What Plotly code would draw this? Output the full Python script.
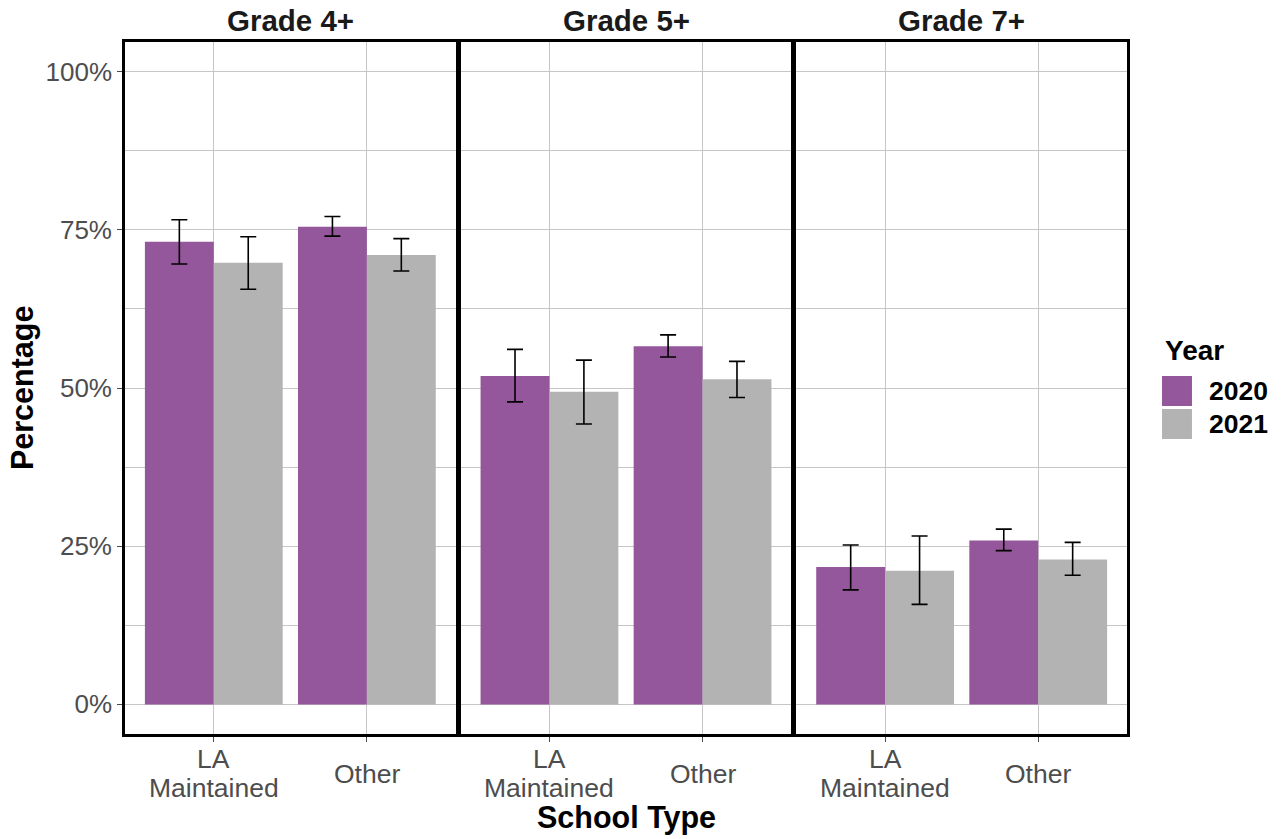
import plotly.graph_objects as go
from plotly.subplots import make_subplots

grades = ["Grade 4+", "Grade 5+", "Grade 7+"]
school_types = ["LA Maintained", "Other"]
school_labels = ["LA<br>Maintained", "Other"]
years = ["2020", "2021"]

# order: G4 LA, G4 Other, G5 LA, G5 Other, G7 LA, G7 Other
pct_2020 = [73.1, 75.5, 51.9, 56.6, 21.7, 25.9]
upper_2020 = [76.6, 77.1, 56.1, 58.4, 25.2, 27.7]
lower_2020 = [69.6, 74.0, 47.8, 54.9, 18.1, 24.3]
pct_2021 = [69.8, 71.0, 49.4, 51.4, 21.1, 22.9]
upper_2021 = [73.9, 73.6, 54.4, 54.2, 26.6, 25.6]
lower_2021 = [65.6, 68.5, 44.3, 48.5, 15.8, 20.4]

y_ticks = [0, 25, 50, 75, 100]
y_ticklabels = ["0%", "25%", "50%", "75%", "100%"]

colors = {"2020": "#95579B", "2021": "#B3B3B3"}
series = {
    "2020": (pct_2020, upper_2020, lower_2020),
    "2021": (pct_2021, upper_2021, lower_2021),
}

FONT = "Liberation Sans, Arial, sans-serif"
GRID = "#C6C6C6"
TICKC = "#4D4D4D"

W, H = 1286, 839
PLOT_L, PLOT_R, PLOT_T, PLOT_B = 124.5, 1127, 42, 734
PW = PLOT_R - PLOT_L
PH = PLOT_B - PLOT_T


def px_x(xp):  # page x -> paper
    return (xp - PLOT_L) / PW


def px_y(yp):  # page y -> paper
    return (PLOT_B - yp) / PH


fig = make_subplots(rows=1, cols=3, shared_yaxes=True, horizontal_spacing=5 / PW)

for gi, grade in enumerate(grades):
    for yr in years:
        vals, up, lo = series[yr]
        v = vals[2 * gi: 2 * gi + 2]
        u = up[2 * gi: 2 * gi + 2]
        l = lo[2 * gi: 2 * gi + 2]
        fig.add_trace(
            go.Bar(
                x=school_types,
                y=v,
                name=yr,
                marker=dict(color=colors[yr], line=dict(width=0)),
                error_y=dict(
                    type="data",
                    symmetric=False,
                    array=[a - b for a, b in zip(u, v)],
                    arrayminus=[b - c for b, c in zip(v, l)],
                    color="black",
                    thickness=1.6,
                    width=8,
                ),
                showlegend=False,
                hoverinfo="skip",
            ),
            row=1, col=gi + 1,
        )

for gi in range(3):
    xa = "xaxis" if gi == 0 else f"xaxis{gi + 1}"
    ya = "yaxis" if gi == 0 else f"yaxis{gi + 1}"
    fig.layout[xa].update(
        type="category",
        categoryorder="array",
        categoryarray=school_types,
        range=[-0.58, 1.58],
        showgrid=True,
        gridcolor=GRID,
        gridwidth=1.4,
        showline=True,
        mirror=True,
        linecolor="black",
        linewidth=2.6,
        ticks="outside",
        ticklen=5,
        tickwidth=1.4,
        tickcolor=TICKC,
        showticklabels=False,
        zeroline=False,
        fixedrange=True,
    )
    fig.layout[ya].update(
        range=[-4.68, 104.68],
        tickvals=y_ticks,
        ticktext=y_ticklabels,
        showgrid=True,
        gridcolor=GRID,
        gridwidth=1.4,
        minor=dict(dtick=12.5, tick0=0, showgrid=True, gridcolor=GRID, gridwidth=1.4, ticks=""),
        showline=True,
        mirror=True,
        linecolor="black",
        linewidth=2.6,
        ticks="outside" if gi == 0 else "",
        ticklen=5,
        tickwidth=1.4,
        tickcolor=TICKC,
        showticklabels=(gi == 0),
        tickfont=dict(family=FONT, size=26, color=TICKC),
        zeroline=False,
        fixedrange=True,
    )

annotations = []
LABEL_CENTER = 773.5
LINE_STEP = 28.5
for gi in range(3):
    xref = "x" if gi == 0 else f"x{gi + 1}"
    for cat, lab in zip(school_types, school_labels):
        lines = lab.split("<br>")
        n = len(lines)
        for li, line in enumerate(lines):
            yc = LABEL_CENTER + (li - (n - 1) / 2) * LINE_STEP
            annotations.append(dict(
                x=cat, xref=xref, y=px_y(yc), yref="paper",
                text=line, showarrow=False, xanchor="center", yanchor="middle",
                font=dict(family=FONT, size=26.5, color=TICKC),
            ))
    annotations.append(dict(
        x=0.5, xref=f"{xref} domain", y=px_y(20), yref="paper",
        text=f"<b>{grades[gi]}</b>", showarrow=False, xanchor="center", yanchor="middle",
        font=dict(family=FONT, size=29.5, color="#1A1A1A"),
    ))

annotations.append(dict(
    x=0.5, xref="paper", y=px_y(817), yref="paper", text="<b>School Type</b>",
    showarrow=False, xanchor="center", yanchor="middle",
    font=dict(family=FONT, size=30.5, color="black"),
))
annotations.append(dict(
    x=px_x(21.5), xref="paper", y=px_y(388), yref="paper", text="<b>Percentage</b>",
    showarrow=False, xanchor="center", yanchor="middle", textangle=-90,
    font=dict(family=FONT, size=30.5, color="black"),
))

# legend (manual)
annotations.append(dict(
    x=px_x(1163), xref="paper", y=px_y(350.5), yref="paper", text="<b>Year</b>",
    showarrow=False, xanchor="left", yanchor="middle",
    font=dict(family=FONT, size=28, color="black"),
))
shapes = []
key_tops = [376, 409]
KEY = 30
for yr, top in zip(years, key_tops):
    shapes.append(dict(
        type="rect", xref="paper", yref="paper",
        x0=px_x(1162), x1=px_x(1162 + KEY), y0=px_y(top + KEY), y1=px_y(top),
        fillcolor=colors[yr], line=dict(width=0),
    ))
    annotations.append(dict(
        x=px_x(1207), xref="paper", y=px_y(top + KEY / 2), yref="paper", text=f"<b>{yr}</b>",
        showarrow=False, xanchor="left", yanchor="middle",
        font=dict(family=FONT, size=26.5, color="black"),
    ))

fig.update_layout(
    width=W,
    height=H,
    margin=dict(l=PLOT_L, r=W - PLOT_R, t=PLOT_T, b=H - PLOT_B, autoexpand=False),
    barmode="group",
    bargap=0.1,
    bargroupgap=0,
    plot_bgcolor="white",
    paper_bgcolor="white",
    annotations=annotations,
    shapes=shapes,
    showlegend=False,
    hovermode=False,
    font=dict(family=FONT),
)

fig.write_html(
    "out.html",
    config={"displayModeBar": False, "staticPlot": False},
    post_script="document.body.style.margin='0';document.body.style.overflow='hidden';",
)
